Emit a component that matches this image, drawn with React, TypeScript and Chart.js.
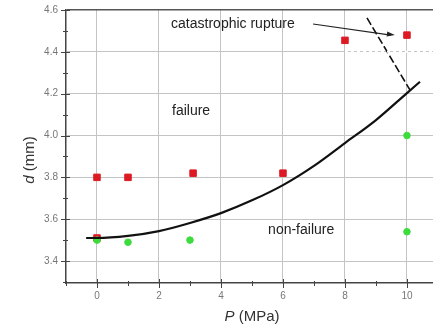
import React, { useEffect, useRef } from "react";
import { Chart, registerables } from "chart.js";

Chart.register(...registerables);

// Data
const failureP = [0, 1, 3.1, 6, 8, 10, 0];
const failureD = [3.8, 3.8, 3.82, 3.82, 4.455, 4.48, 3.51];
const nonFailureP = [0, 1, 3, 10, 10];
const nonFailureD = [3.5, 3.49, 3.5, 4.0, 3.54];
const boundaryP = [-0.35, 0, 1, 2, 3, 4, 5, 6, 7, 8, 9, 10, 10.42];
const boundaryD = [3.51, 3.51, 3.52, 3.543, 3.582, 3.629, 3.69, 3.763, 3.855, 3.964, 4.074, 4.203, 4.257];
const ruptureP = [8.71, 10.1];
const ruptureD = [4.562, 4.217];
const arrowP = [6.97, 9.61];
const arrowD = [4.533, 4.48];

const xTicks = [0, 2, 4, 6, 8, 10];
const xTickLabels = ["0", "2", "4", "6", "8", "10"];
const xMinorTicks = [-1, 1, 3, 5, 7, 9];
const yTicks = [3.4, 3.6, 3.8, 4.0, 4.2, 4.4, 4.6];
const yTickLabels = ["3.4", "3.6", "3.8", "4.0", "4.2", "4.4", "4.6"];
const yMinorTicks = [3.3, 3.5, 3.7, 3.9, 4.1, 4.3, 4.5];

const annotations = [
  { text: "catastrophic rupture", p: 2.39, d: 4.533 },
  { text: "failure", p: 2.42, d: 4.117 },
  { text: "non-failure", p: 5.52, d: 3.547 },
];

const pts = (xs: number[], ys: number[]) => xs.map((x, i) => ({ x, y: ys[i] }));
const FONT = "Arial, 'Liberation Sans', sans-serif";

const overlay = {
  id: "overlay",
  afterDatasetsDraw(chart: any) {
    const { ctx, chartArea } = chart;
    const xs = chart.scales.x;
    const ys = chart.scales.y;
    ctx.save();

    // dashed light segment on 4.4 grid line at right
    ctx.strokeStyle = "#ffffff";
    ctx.lineWidth = 2;
    ctx.setLineDash([3, 3]);
    ctx.beginPath();
    ctx.moveTo(xs.getPixelForValue(8), ys.getPixelForValue(4.4));
    ctx.lineTo(chartArea.right, ys.getPixelForValue(4.4));
    ctx.stroke();
    ctx.setLineDash([]);

    // axis ticks
    ctx.strokeStyle = "#444";
    ctx.lineWidth = 1;
    const b = chartArea.bottom;
    const l = chartArea.left;
    ctx.beginPath();
    xTicks.forEach((v) => {
      const px = Math.round(xs.getPixelForValue(v)) + 0.5;
      ctx.moveTo(px, b - 4);
      ctx.lineTo(px, b + 5);
    });
    xMinorTicks.forEach((v) => {
      const px = Math.round(xs.getPixelForValue(v)) + 0.5;
      ctx.moveTo(px, b - 2);
      ctx.lineTo(px, b + 3);
    });
    yTicks.forEach((v) => {
      const py = Math.round(ys.getPixelForValue(v)) + 0.5;
      ctx.moveTo(l - 5, py);
      ctx.lineTo(l + 4, py);
    });
    yMinorTicks.forEach((v) => {
      const py = Math.round(ys.getPixelForValue(v)) + 0.5;
      ctx.moveTo(l - 3, py);
      ctx.lineTo(l + 2, py);
    });
    ctx.stroke();

    // tick labels
    ctx.fillStyle = "#777";
    ctx.font = "10px " + FONT;
    ctx.textBaseline = "middle";
    ctx.textAlign = "center";
    xTicks.forEach((v, i) => {
      ctx.fillText(xTickLabels[i], xs.getPixelForValue(v), b + 13);
    });
    ctx.textAlign = "right";
    yTicks.forEach((v, i) => {
      ctx.fillText(yTickLabels[i], l - 8, ys.getPixelForValue(v));
    });

    // arrow
    const ax0 = xs.getPixelForValue(arrowP[0]);
    const ay0 = ys.getPixelForValue(arrowD[0]);
    const ax1 = xs.getPixelForValue(arrowP[1]);
    const ay1 = ys.getPixelForValue(arrowD[1]);
    ctx.strokeStyle = "#222";
    ctx.fillStyle = "#222";
    ctx.lineWidth = 1.1;
    ctx.beginPath();
    ctx.moveTo(ax0, ay0);
    ctx.lineTo(ax1 - 4, ay1);
    ctx.stroke();
    const ang = Math.atan2(ay1 - ay0, ax1 - ax0);
    ctx.beginPath();
    ctx.moveTo(ax1, ay1);
    ctx.lineTo(ax1 - 8 * Math.cos(ang) + 2.5 * Math.sin(ang), ay1 - 8 * Math.sin(ang) - 2.5 * Math.cos(ang));
    ctx.lineTo(ax1 - 8 * Math.cos(ang) - 2.5 * Math.sin(ang), ay1 - 8 * Math.sin(ang) + 2.5 * Math.cos(ang));
    ctx.closePath();
    ctx.fill();

    // annotation text
    ctx.fillStyle = "#222";
    ctx.font = "14px " + FONT;
    ctx.textBaseline = "middle";
    ctx.textAlign = "left";
    annotations.forEach((a) => {
      ctx.fillText(a.text, xs.getPixelForValue(a.p), ys.getPixelForValue(a.d));
    });

    // axis titles (with italic symbols)
    ctx.fillStyle = "#333";
    const drawTitle = (sym: string, rest: string, cx: number, cy: number, rot: boolean) => {
      ctx.save();
      ctx.translate(cx, cy);
      if (rot) ctx.rotate(-Math.PI / 2);
      ctx.font = "italic 15px " + FONT;
      const w1 = ctx.measureText(sym).width;
      ctx.font = "15px " + FONT;
      const w2 = ctx.measureText(rest).width;
      const start = -(w1 + w2) / 2;
      ctx.textAlign = "left";
      ctx.textBaseline = "middle";
      ctx.font = "italic 15px " + FONT;
      ctx.fillText(sym, start, 0);
      ctx.font = "15px " + FONT;
      ctx.fillText(rest, start + w1, 0);
      ctx.restore();
    };
    drawTitle("d", " (mm)", 30, 160, true);
    drawTitle("P", " (MPa)", 252, 317, false);

    ctx.restore();
  },
};

export default function App() {
  const ref = useRef<HTMLCanvasElement>(null);
  useEffect(() => {
    document.body.style.margin = "0";
    const chart = new Chart(ref.current as HTMLCanvasElement, {
      type: "scatter",
      data: {
        datasets: [
          {
            label: "boundary",
            type: "line",
            data: pts(boundaryP, boundaryD),
            borderColor: "#111",
            borderWidth: 2.2,
            pointRadius: 0,
            tension: 0.4,
            cubicInterpolationMode: "monotone",
            fill: false,
          },
          {
            label: "rupture",
            type: "line",
            data: pts(ruptureP, ruptureD),
            borderColor: "#111",
            borderWidth: 1.6,
            borderDash: [8, 3],
            pointRadius: 0,
            fill: false,
          },
          {
            label: "non-failure",
            data: pts(nonFailureP, nonFailureD),
            backgroundColor: "#3ddc3d",
            borderColor: "#3ddc3d",
            pointStyle: "circle",
            pointRadius: 3.3,
          },
          {
            label: "failure",
            data: pts(failureP, failureD),
            backgroundColor: "#dd1a24",
            borderColor: "#dd1a24",
            pointStyle: "rect",
            pointRadius: 4.6,
          },
        ],
      } as any,
      options: {
        responsive: false,
        animation: false,
        layout: { autoPadding: false, padding: { top: 10, right: 0, left: 0, bottom: 0 } },
        plugins: { legend: { display: false }, tooltip: { enabled: false } },
        scales: {
          x: {
            type: "linear",
            min: -1,
            max: 10.84,
            afterFit: (s: any) => {
              s.height = 46;
            },
            afterBuildTicks: (s: any) => {
              s.ticks = xTicks.map((v) => ({ value: v }));
            },
            ticks: { display: false },
            grid: { color: "#c4c4c4", lineWidth: 1, drawTicks: false },
            border: { display: true, color: "#444", width: 1.5 },
          },
          y: {
            type: "linear",
            min: 3.295,
            max: 4.6,
            afterFit: (s: any) => {
              s.width = 66;
            },
            afterBuildTicks: (s: any) => {
              s.ticks = yTicks.map((v) => ({ value: v }));
            },
            ticks: { display: false },
            grid: {
              color: (c: any) => (c.tick && Math.abs(c.tick.value - 4.6) < 1e-6 ? "#555" : "#c4c4c4"),
              lineWidth: (c: any) => (c.tick && Math.abs(c.tick.value - 4.6) < 1e-6 ? 1.5 : 1),
              drawTicks: false,
            },
            border: { display: true, color: "#444", width: 1.5 },
          },
        },
      } as any,
      plugins: [overlay],
    });
    return () => chart.destroy();
  }, []);
  return (
    <div style={{ position: "absolute", left: 0, top: 0, width: 433, height: 329, overflow: "hidden", background: "#fff" }}>
      <canvas ref={ref} width={433} height={329} />
    </div>
  );
}
